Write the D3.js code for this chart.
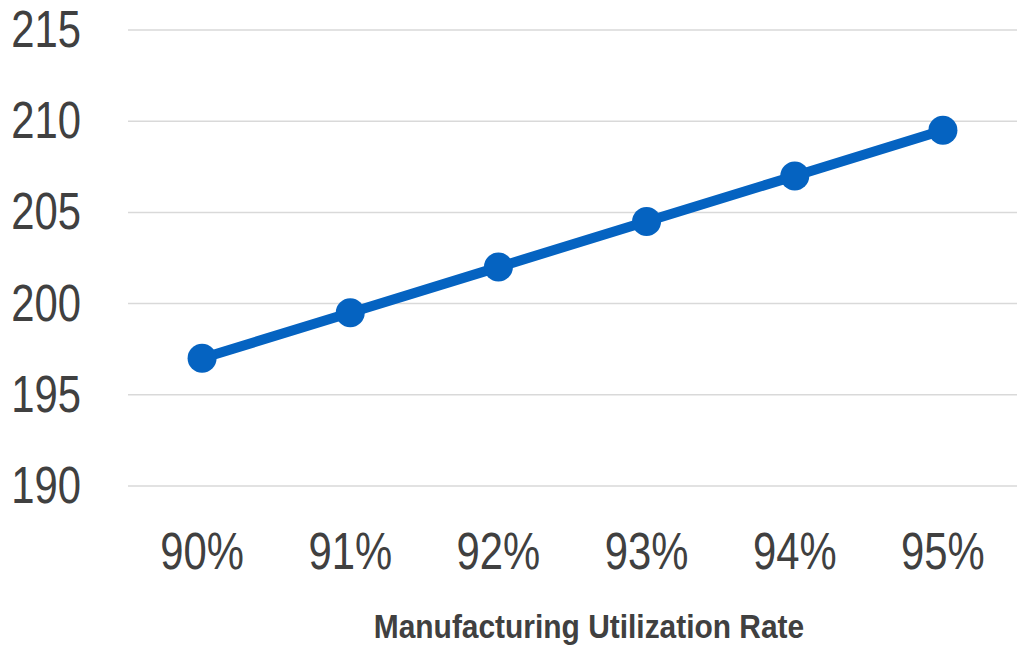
<!DOCTYPE html>
<html>
<head>
<meta charset="utf-8">
<script src="https://cdn.jsdelivr.net/npm/d3@7"></script>
<style>
  body { margin: 0; background: #fff; }
  text { font-family: "Liberation Sans", Arial, sans-serif; fill: #404040; }
</style>
</head>
<body>
<svg id="svg" width="1019" height="648"></svg>
<script>
// chart data
let categories = ["90%", "91%", "92%", "93%", "94%", "95%"];
let values = [197, 199.5, 202, 204.5, 207, 209.5];
let yTicks = [190, 195, 200, 205, 210, 215];
let axisTitle = "Manufacturing Utilization Rate";

let svg = d3.select("svg");
let margin = {top: 30, right: 2, bottom: 162, left: 128};
let width = 1019 - margin.left - margin.right;
let height = 648 - margin.top - margin.bottom;

// no narrow font installed, so squeeze horizontally
let narrow = 0.82;

let x = d3.scaleBand().domain(categories).range([0, width]);
let y = d3.scaleLinear().domain([190, 215]).range([height, 0]);

let g = svg.append("g")
  .attr("transform", "translate(" + margin.left + "," + margin.top + ")");

// gridlines
g.selectAll(".grid")
  .data(yTicks)
  .enter().append("line")
    .attr("x1", 0)
    .attr("x2", width)
    .attr("y1", d => y(d))
    .attr("y2", d => y(d))
    .attr("stroke", "#d9d9d9")
    .attr("stroke-width", 1.5);

// y tick labels
g.selectAll(".ylab")
  .data(yTicks)
  .enter().append("text")
    .attr("transform", d => "translate(-47," + (y(d) + 17) + ") scale(" + narrow + ",1)")
    .attr("text-anchor", "end")
    .style("font-size", "51px")
    .text(d => d);

// x tick labels
g.selectAll(".xlab")
  .data(categories)
  .enter().append("text")
    .attr("transform", d => "translate(" + (x(d) + x.bandwidth() / 2) + ",539) scale(" + narrow + ",1)")
    .attr("text-anchor", "middle")
    .style("font-size", "51px")
    .text(d => d);

// axis title
svg.append("text")
  .attr("transform", "translate(589,638) scale(0.88,1)")
  .attr("text-anchor", "middle")
  .style("font-size", "34px")
  .style("font-weight", "bold")
  .text(axisTitle);

let data = categories.map((c, i) => ({ cat: c, value: values[i] }));

let line = d3.line()
  .x(d => x(d.cat) + x.bandwidth() / 2)
  .y(d => y(d.value));

g.append("path")
  .datum(data)
  .attr("fill", "none")
  .attr("stroke", "#0563c1")
  .attr("stroke-width", 10)
  .attr("stroke-linejoin", "round")
  .attr("d", line);

g.selectAll(".dot")
  .data(data)
  .enter().append("circle")
    .attr("cx", d => x(d.cat) + x.bandwidth() / 2)
    .attr("cy", d => y(d.value))
    .attr("r", 14.5)
    .attr("fill", "#0563c1");
</script>
</body>
</html>
